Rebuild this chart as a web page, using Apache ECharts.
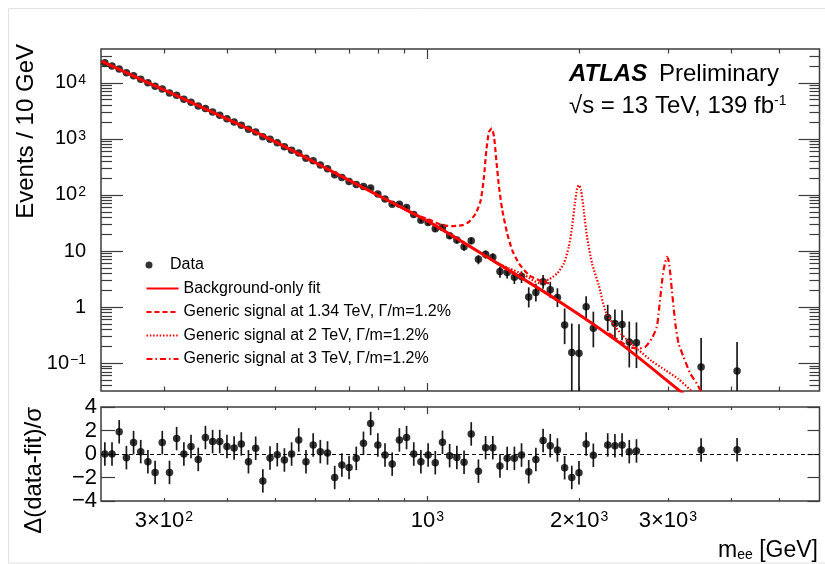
<!DOCTYPE html>
<html><head><meta charset="utf-8">
<script src="https://cdn.jsdelivr.net/npm/echarts@6/dist/echarts.min.js"></script>
<style>html,body{margin:0;padding:0;background:#fff;}#c{width:825px;height:564px;}</style>
</head><body><div id="c"></div>
<script>
// ---------- data ----------
const binMass = [229.0,236.6,244.5,252.7,261.1,269.8,278.8,288.1,297.7,307.7,
317.9,328.6,339.5,350.9,362.6,374.7,387.1,400.1,413.4,427.2,
441.4,456.2,471.4,487.1,503.5,520.2,537.6,555.4,574.1,593.3,
613.0,633.5,654.6,676.5,699.0,722.4,746.6,771.5,797.3,823.8,
851.3,879.7,909.1,939.5,970.7,1003.2,1036.6,1071.3,1106.9,1144.0,
1182.3,1221.6,1262.5,1304.6,1348.2,1393.1,1439.8,1488.0,1537.4,1588.8,
1641.6,1696.6,1753.0,1811.4,1872.1,1934.3,1999.0,2065.4,2134.6,
2279.4,2355.8,2434.0,2515.5,2599.5,3493,4117];
const events = [22790,19850,17680,15100,13300,11580,10000,8665,7775,6563,
5962,5108,4513,3868,3468,3027,2638,2295,1995,1751,
1488,1327,1089,987,852,721.6,628,558.7,451.5,406.8,
342,292.2,228.2,204.9,173.5,154.4,141.8,133.2,104.0,84.6,
68.6,68.1,59.6,44.98,35.5,32.26,24.86,26.29,18.68,15.72,
11.91,15.21,7.12,8.73,7.78,4.30,4.16,3.42,3.51,1.509,
1.825,2.826,2.051,1.489,0.480,0.155,0.150,1.016,0.421,
0.657,0.509,0.492,0.238,0.231,0.0858,0.0728];
const errDown = [173,158,147,134,124,113,104,95,88.5,80,
75,68,63,57.5,53.5,49,45,41.4,38,35,
31.8,29.5,26.3,24.6,22.5,20.4,18.7,17.4,15.3,14.3,
12.9,11.8,10.2,9.5,8.6,8.0,7.5,7.2,6.3,5.5,
4.9,4.8,4.4,3.79,3.31,3.10,2.68,2.71,2.25,2.03,
1.74,1.93,1.30,1.42,1.31,0.96,0.93,0.83,0.83,0.522,
0.567,0.696,0.583,0.487,0.261,0.128,0.124,0.375,0.229,
0.284,0.244,0.235,0.154,0.149,0.071,0.060];
const errUp = [173,158,147,134,124,113,104,95,88.5,80,
75,68,63,57.5,53.5,49,45,41.4,38,35,
31.8,29.5,26.3,24.6,22.5,20.4,18.7,17.4,15.3,14.3,
12.9,11.8,10.2,9.5,8.6,8.0,7.5,7.2,6.3,5.5,
4.9,4.8,4.4,3.79,3.31,3.10,2.68,2.71,2.25,2.03,
1.74,1.93,1.30,1.42,1.31,0.96,0.93,0.83,0.83,0.745,
0.780,0.904,0.780,0.680,0.467,0.356,0.345,0.546,0.410,
0.445,0.402,0.390,0.315,0.304,0.197,0.167];
const residual = [0,0,1.89,-0.31,0.97,0.2,-0.66,-1.57,0.97,-1.57,
1.31,0,0.63,-0.46,1.4,1.06,1.06,0.63,0.51,0.86,
-0.66,0.49,-2.29,-0.34,-0.06,-0.51,0,1.2,-0.66,0.77,
0.2,0.09,-2.0,-0.94,-1.14,-0.37,0.91,2.6,0.77,-0.09,
-0.86,1.2,1.4,0,-0.66,-0.09,-0.74,1.0,-0.14,-0.29,
-0.71,1.71,-1.46,0.54,0.54,-1.03,-0.37,-0.37,-0.09,-1.51,
-0.46,1.14,0.71,0.34,-1.17,-2.0,-1.6,0.86,-0.11,
0.77,0.71,0.77,0.2,0.26,0.34,0.37];
const residualErr = 1;

const fitMass  = [225.6,250,300,329.8,400,485.8,600,699.5,800,900,1007.8,1355,1823,2396,3175,3451];
const fitValue = [24270,15830,7456,5060,2273,995.9,375,182.1,97.6,56.3,33.1,6.61,1.279,0.2377,0.0318,0.0175];

const sig134Mass  = [879,933.9,1007.8,1071,1121,1173,1209,1247,1276,1295,1309,1325,1342,1356,1370,1387,1408,1440,1473,1519,1590,1664,1742];
const sig134Value = [62.6,46.8,36.3,28.95,27.8,28.95,33.1,46.8,80.8,210.2,628.8,1333,1532,1086,417.3,139.4,53.6,20.6,10.4,6.01,3.72,3.03,2.65];
const sig2Mass  = [1368,1451,1554,1664,1742,1809,1865,1908,1937,1962,1982,1998,2018,2043,2074,2122,2188,2256,2361,2471,2626,2789,2966,3151,3344];
const sig2Value = [6.21,4.96,3.80,2.71,3.12,3.99,6.01,11.88,27.0,70.6,130.6,149.5,121.8,53.6,17.9,6.01,2.47,0.849,0.440,0.280,0.1713,0.109,0.0753,0.0521,0.0318];
const sig3Mass  = [2290,2508,2626,2707,2789,2853,2876,2919,2942,2966,2987,3010,3034,3056,3080,3104,3151,3224,3323,3425,3494,3547];
const sig3Value = [0.344,0.196,0.1836,0.196,0.2767,0.4455,0.772,2.65,4.57,6.42,7.88,6.88,3.99,2.01,1.012,0.512,0.2254,0.130,0.0658,0.0436,0.0309,0.0239];

const xMajorTicks = [1000];
const xMinorTicks = [300,400,500,600,700,800,900,2000,3000,4000,5000];
const xLabelValues = [300,1000,2000,3000];
const yMajorTicks = [0.1,1,10,100,1000,10000];
const yMinorTicks = [0.04,0.05,0.06,0.07,0.08,0.09,0.2,0.3,0.4,0.5,0.6,0.7,0.8,0.9,
  2,3,4,5,6,7,8,9,20,30,40,50,60,70,80,90,200,300,400,500,600,700,800,900,
  2000,3000,4000,5000,6000,7000,8000,9000,20000,30000];
const resTicks = [-4,-2,0,2,4];

const legendNames = ['Data','Background-only fit','Generic signal at 1.34 TeV, \u0393/m=1.2%',
  'Generic signal at 2 TeV, \u0393/m=1.2%','Generic signal at 3 TeV, \u0393/m=1.2%'];

// ---------- chart ----------
const FONT = '"Liberation Sans", Arial, Helvetica, sans-serif';
const AX = '#3c3c3c';
const X_MIN = 225, X_MAX = 6000, Y_MIN = 0.032, Y_MAX = 40000;
const chart = echarts.init(document.getElementById('c'), null, {renderer:'canvas'});

const supRich = {
  sup: {fontSize: 14, verticalAlign: 'top', lineHeight: 14, fontFamily: FONT, color:'#000', padding:[0,0,0,1]}
};

function tickAxis(base, pos, values, len) {
  return Object.assign({}, base, {
    position: pos,
    axisLine: {show: false, onZero: false},
    axisTick: {show: true, inside: true, length: len, customValues: values, lineStyle: {color: AX, width: 1.2}},
    axisLabel: {show: false},
    splitLine: {show: false}, minorTick:{show:false}
  });
}
const xMainBase = {type:'log', gridIndex:0, min:X_MIN, max:X_MAX, logBase:10};
const xResBase  = {type:'log', gridIndex:1, min:X_MIN, max:X_MAX, logBase:10};
const yMainBase = {type:'log', gridIndex:0, min:Y_MIN, max:Y_MAX, logBase:10};
const yResBase  = {type:'value', gridIndex:1, min:-4, max:4, interval:2};

function xLabelFmt(v) {
  const r = Math.round(v);
  if (r === 1000) return '10{sup|3}';
  if (r === 300) return '3\u00d710{sup|2}';
  if (r === 2000) return '2\u00d710{sup|3}';
  if (r === 3000) return '3\u00d710{sup|3}';
  return '';
}
function yLabelFmt(v) {
  const k = Math.round(Math.log10(v));
  if (k === 0) return '1';
  if (k === 1) return '10';
  return '10{sup|' + (k < 0 ? '\u2212' + (-k) : k) + '}';
}

const xAxes = [
  tickAxis(xMainBase, 'bottom', xMajorTicks, 8),
  tickAxis(xMainBase, 'bottom', xMinorTicks, 4.5),
  tickAxis(xMainBase, 'top', xMajorTicks, 10),
  tickAxis(xMainBase, 'top', xMinorTicks, 4.5),
  Object.assign(tickAxis(xResBase, 'bottom', xMajorTicks, 5), {
    axisLabel: {show: true, customValues: xLabelValues, formatter: xLabelFmt, margin: 9,
      fontFamily: FONT, fontSize: 22, color: '#000', rich: supRich}
  }),
  tickAxis(xResBase, 'bottom', xMinorTicks, 3),
  tickAxis(xResBase, 'top', xMajorTicks, 7),
  tickAxis(xResBase, 'top', xMinorTicks, 3)
];
const yAxes = [
  Object.assign(tickAxis(yMainBase, 'left', yMajorTicks, 22), {
    axisLabel: {show: true, customValues: yMajorTicks, formatter: yLabelFmt, margin: 15,
      fontFamily: FONT, fontSize: 20, color: '#000', rich: supRich}
  }),
  tickAxis(yMainBase, 'left', yMinorTicks, 11),
  tickAxis(yMainBase, 'right', yMajorTicks, 21),
  tickAxis(yMainBase, 'right', yMinorTicks, 10),
  Object.assign(tickAxis(yResBase, 'left', resTicks, 14), {
    axisLabel: {show: true, customValues: resTicks, margin: 4,
      formatter: v => (v < 0 ? '\u2212' + (-v) : String(v)),
      fontFamily: FONT, fontSize: 22, color: '#000'}
  }),
  tickAxis(yResBase, 'right', resTicks, 12)
];

function errorBarRender(yFloor, yCeil) {
  return function (params, api) {
    const x = api.value(0);
    const lo = Math.max(api.value(1), yFloor);
    const hi = Math.min(api.value(2), yCeil);
    const p1 = api.coord([x, lo]);
    const p2 = api.coord([x, hi]);
    return {type: 'line', shape: {x1: p1[0], y1: p1[1], x2: p2[0], y2: p2[1]},
      style: {stroke: '#1a1a1a', lineWidth: 1.7}};
  };
}

const mainData = binMass.map((m, i) => [m, events[i]]);
const mainErr  = binMass.map((m, i) => [m, events[i] - errDown[i], events[i] + errUp[i]]);
const resData  = binMass.map((m, i) => [m, residual[i]]);
const resErr   = binMass.map((m, i) => [m, residual[i] - residualErr, residual[i] + residualErr]);
const zip = (a, b) => a.map((v, i) => [v, b[i]]);

const option = {
  animation: false,
  backgroundColor: '#ffffff',
  grid: [
    {left: 101, top: 49, width: 718.5, height: 342, show: true, borderColor: AX, borderWidth: 1.5, backgroundColor: 'transparent'},
    {left: 101, top: 407, width: 718.5, height: 94, show: true, borderColor: AX, borderWidth: 1.5, backgroundColor: 'transparent'}
  ],
  xAxis: xAxes,
  yAxis: yAxes,
  title: [
    {text: '{b|ATLAS}', left: 569, top: 62, padding: 0,
      textStyle: {rich: {b: {fontFamily: FONT, fontSize: 24, fontWeight: 'bold', fontStyle: 'italic', color: '#000'}}}},
    {text: 'Preliminary', left: 659, top: 62, padding: 0,
      textStyle: {fontFamily: FONT, fontSize: 24, fontWeight: 'normal', color: '#000'}},
    {text: '\u221As = 13 TeV, 139 fb{sup|-1}', left: 569, top: 94, padding: 0,
      textStyle: {fontFamily: FONT, fontSize: 24, fontWeight: 'normal', color: '#000', lineHeight: 24,
        rich: {sup: {fontFamily: FONT, fontSize: 14, verticalAlign: 'top', lineHeight: 14, color: '#000'}}}},
    {text: 'm{sub|ee} [GeV]', right: 7, top: 539, padding: 0,
      textStyle: {fontFamily: FONT, fontSize: 23, fontWeight: 'normal', color: '#000', lineHeight: 23,
        rich: {sub: {fontFamily: FONT, fontSize: 14, verticalAlign: 'bottom', lineHeight: 14, color: '#000'}}}}
  ],
  legend: [
    {data: [legendNames[0]], orient: 'vertical', left: 145.5, top: 257, itemWidth: 32, itemHeight: 7,
      itemGap: 7.5, padding: 0, selectedMode: false,
      textStyle: {fontFamily: FONT, fontSize: 16, color: '#000', lineHeight: 16}},
    {data: legendNames.slice(1), orient: 'vertical', left: 145.5, top: 280.5, itemWidth: 32, itemHeight: 14,
      itemGap: 7.5, padding: 0, selectedMode: false,
      itemStyle: {opacity: 0, borderWidth: 0},
      textStyle: {fontFamily: FONT, fontSize: 16, color: '#000', lineHeight: 16}}
  ],
  graphic: [
    {type: 'rect', shape: {x: 8.5, y: 8.5, width: 830, height: 554.5}, style: {fill: 'none', stroke: '#e2e2e2', lineWidth: 1}, silent: true},
    {type: 'text', x: 26, y: 44, rotation: Math.PI / 2, silent: true,
      style: {text: 'Events / 10 GeV', font: '24px ' + FONT, align: 'right', verticalAlign: 'middle', fill: '#000'}},
    {type: 'text', x: 34, y: 407, rotation: Math.PI / 2, silent: true,
      style: {text: '\u0394(data-fit)/\u03c3', font: '24px ' + FONT, align: 'right', verticalAlign: 'middle', fill: '#000'}}
  ],
  series: [
    {name: 'DataErr', type: 'custom', xAxisIndex: 0, yAxisIndex: 0, data: mainErr, z: 2,
      renderItem: errorBarRender(Y_MIN, Y_MAX), clip: true, silent: true},
    {name: legendNames[0], type: 'scatter', xAxisIndex: 0, yAxisIndex: 0, data: mainData, z: 3,
      symbol: 'circle', symbolSize: 7.5, itemStyle: {color: '#000'}, silent: true},
    {name: legendNames[1], type: 'line', xAxisIndex: 0, yAxisIndex: 0, data: zip(fitMass, fitValue), z: 4,
      symbol: 'none', smooth: 0.3, lineStyle: {color: '#ff0000', width: 3}, itemStyle: {color: '#ff0000'}, silent: true},
    {name: legendNames[2], type: 'line', xAxisIndex: 0, yAxisIndex: 0, data: zip(sig134Mass, sig134Value), z: 5,
      symbol: 'none', smooth: 0.2, lineStyle: {color: '#ff0000', width: 2.2, type: [5, 3]}, itemStyle: {color: '#ff0000'}, silent: true},
    {name: legendNames[3], type: 'line', xAxisIndex: 0, yAxisIndex: 0, data: zip(sig2Mass, sig2Value), z: 5,
      symbol: 'none', smooth: 0.2, lineStyle: {color: '#ff0000', width: 2.2, type: [1.5, 1.8]}, itemStyle: {color: '#ff0000'}, silent: true},
    {name: legendNames[4], type: 'line', xAxisIndex: 0, yAxisIndex: 0, data: zip(sig3Mass, sig3Value), z: 5,
      symbol: 'none', smooth: 0.2, lineStyle: {color: '#ff0000', width: 2.2, type: [6, 3, 1.5, 3]}, itemStyle: {color: '#ff0000'}, silent: true},
    {name: 'ResErr', type: 'custom', xAxisIndex: 4, yAxisIndex: 4, data: resErr, z: 2,
      renderItem: errorBarRender(-4, 4), clip: true, silent: true},
    {name: 'Residual', type: 'scatter', xAxisIndex: 4, yAxisIndex: 4, data: resData, z: 3,
      symbol: 'circle', symbolSize: 7.5, itemStyle: {color: '#000'}, silent: true,
      markLine: {silent: true, symbol: 'none', label: {show: false}, animation: false,
        lineStyle: {color: '#000', width: 1, type: [4, 3]}, data: [{yAxis: 0}]}}
  ]
};
chart.setOption(option);
</script></body></html>
